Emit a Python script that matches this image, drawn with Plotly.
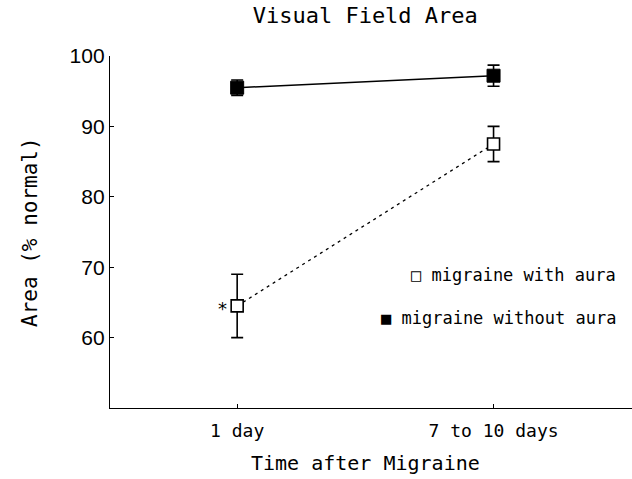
import plotly.graph_objects as go

categories = [1, 2]
tick_labels = ["1 day", "7 to 10 days"]
with_aura = [64.5, 87.5]
with_aura_err = [4.5, 2.5]
without_aura = [95.5, 97.2]
without_aura_err = [1.1, 1.5]

MONO = "DejaVu Sans Mono"

fig = go.Figure()
fig.add_trace(go.Scatter(
    x=categories, y=with_aura, mode="lines+markers",
    line=dict(color="black", width=1.3, dash="3px,4px"),
    marker=dict(symbol="square", size=12, color="white", line=dict(color="black", width=1.6)),
    error_y=dict(type="data", array=with_aura_err, color="black", thickness=1.6, width=6),
    name="migraine with aura", showlegend=False))
fig.add_trace(go.Scatter(
    x=categories, y=without_aura, mode="lines+markers",
    line=dict(color="black", width=1.5),
    marker=dict(symbol="square", size=13, color="black", line=dict(color="black", width=1)),
    error_y=dict(type="data", array=without_aura_err, color="black", thickness=1.6, width=6),
    name="migraine without aura", showlegend=False))

annotations = [
    dict(text="*", x=categories[0], y=with_aura[0], xref="x", yref="y", xshift=-15, yshift=-3,
         showarrow=False, font=dict(family="DejaVu Sans", size=18, color="black")),
    dict(text="\u25a1 migraine with aura", x=1.0, y=0.378, xref="paper", yref="paper",
         xanchor="right", yanchor="middle", xshift=-14, showarrow=False,
         font=dict(family=MONO, size=17, color="black")),
    dict(text="\u25a0 migraine without aura", x=1.0, y=0.256, xref="paper", yref="paper",
         xanchor="right", yanchor="middle", xshift=-14, showarrow=False,
         font=dict(family=MONO, size=17, color="black")),
    dict(text="Time after Migraine", x=0.49, y=0, xref="paper", yref="paper",
         xanchor="center", yanchor="middle", yshift=-55,
         showarrow=False, font=dict(family=MONO, size=20, color="black")),
    dict(text="Area (% normal)", x=0, y=0.5, xref="paper", yref="paper",
         xanchor="center", yanchor="middle", xshift=-80, textangle=-90,
         showarrow=False, font=dict(family=MONO, size=21, color="black")),
]

fig.update_layout(
    width=632, height=479,
    margin=dict(l=110, r=0, t=56, b=71),
    paper_bgcolor="white", plot_bgcolor="white",
    title=dict(text="Visual Field Area", x=0.489, xref="paper", xanchor="center",
               y=1 - 15 / 479, yref="container", yanchor="middle",
               font=dict(family=MONO, size=22, color="black")),
    annotations=annotations,
    showlegend=False,
)
fig.update_xaxes(range=[0.504, 2.54], tickvals=categories, ticktext=tick_labels,
                 showline=True, linecolor="black", linewidth=1.3, ticks="inside", ticklen=4,
                 tickcolor="black", showgrid=False, zeroline=False, ticklabelstandoff=6,
                 tickfont=dict(family=MONO, size=18, color="black"))
fig.update_yaxes(range=[50, 100], tickvals=[60, 70, 80, 90, 100],
                 showline=True, linecolor="black", linewidth=1.3, ticks="inside", ticklen=4,
                 tickcolor="black", showgrid=False, zeroline=False,
                 tickfont=dict(family="Liberation Sans", size=21, color="black"))

fig.write_html("out.html", config={"displayModeBar": False},
               post_script="document.body.style.margin='0';")
